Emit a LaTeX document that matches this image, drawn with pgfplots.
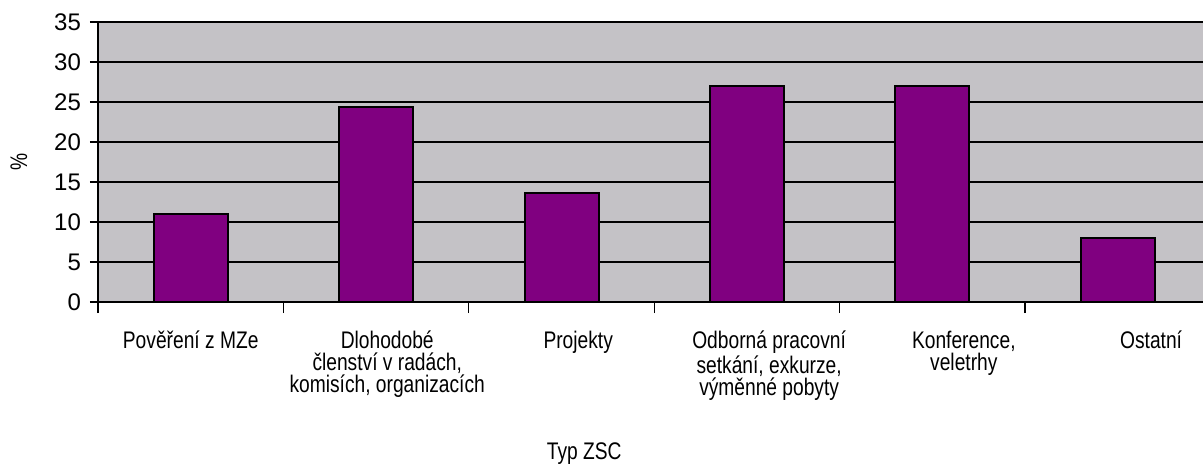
\documentclass[border=0pt]{standalone}
\usepackage{fontspec}
\setmainfont{Liberation Sans}
\newfontfamily\lab{Liberation Sans}[FakeStretch=0.8]
\usepackage{pgfplots}
\pgfplotsset{compat=1.18}
\usetikzlibrary{calc}
\definecolor{plotgray}{RGB}{196,194,198}
\definecolor{barpurple}{RGB}{128,0,128}
\begin{document}
\begin{tikzpicture}
\begin{axis}[
  name=ax,
  scale only axis,
  width=552.5pt, height=140pt,
  xmin=-0.5, xmax=5.46,
  ymin=0, ymax=35,
  ytick={0,5,...,35},
  xtick={0,1.06,2.09,3.12,4.17,5.18},
  xticklabels={{Pověření z MZe}, {Dlohodobé\\členství v radách,\\komisích, organizacích}, {Projekty}, {Odborná pracovní\\setkání, exkurze,\\výměnné pobyty}, {Konference,\\veletrhy}, {Ostatní}},
  minor xtick={-0.5,0.5,1.5,2.5,3.5,4.5},
  axis x line*=bottom,
  axis y line*=left,
  axis line style={black, line width=0.7pt, -},
  tick align=outside,
  major x tick style={draw=none},
  minor x tick style={black, line width=0.6pt},
  minor tick length=5.5pt,
  major tick length=4pt,
  ytick style={black, line width=0.6pt},
  ymajorgrids,
  grid style={black, line width=0.7pt},
  axis background/.style={fill=plotgray},
  /pgf/number format/assume math mode=true,
  yticklabel style={font=\fontsize{12}{12}\selectfont, xshift=-1pt},
  xticklabel style={font=\lab\fontsize{12}{11}\selectfont, align=center, anchor=north, yshift=-7pt},
  ylabel={\%},
  ylabel style={at={(axis description cs:-0.0715,0.5)}, anchor=center, font=\lab\fontsize{12}{12}\selectfont},
  xlabel={Typ ZSC},
  xlabel style={at={(axis description cs:0.44,0)}, anchor=north, yshift=-67pt, font=\lab\fontsize{12}{12}\selectfont},
  ybar,
  bar width=37pt,
]
\addplot[fill=barpurple, draw=black, line width=1pt] coordinates {(0,11) (1,24.4) (2,13.6) (3,27) (4,27) (5,8)};
\end{axis}
\pgfresetboundingbox
\path ($(ax.south west)+(-49pt,-82.5pt)$) rectangle ($(ax.north east)+(0pt,11pt)$);
\end{tikzpicture}
\end{document}
